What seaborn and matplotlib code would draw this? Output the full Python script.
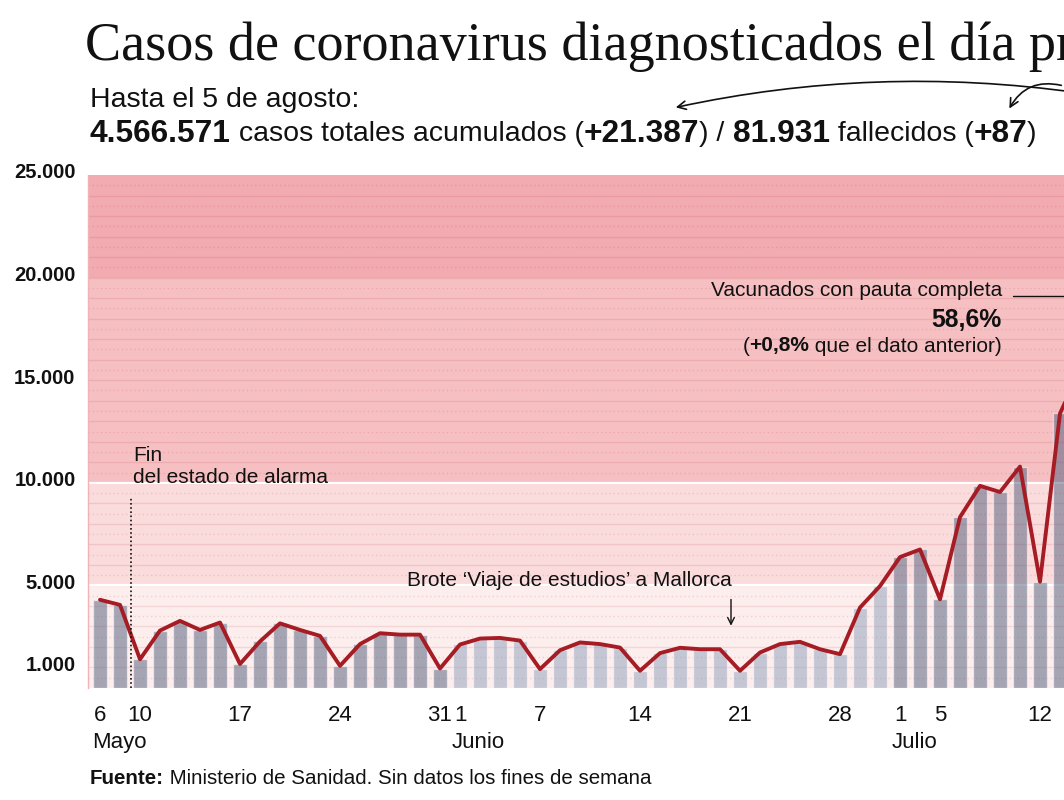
import numpy as np
import pandas as pd
import matplotlib
matplotlib.use('Agg')
import matplotlib.pyplot as plt
import matplotlib.transforms as mtransforms
from matplotlib.patches import FancyArrowPatch
import seaborn as sns

# Casos diagnosticados el día previo (solo días laborables)
fechas = [
    '2021-05-06', '2021-05-07',
    '2021-05-10', '2021-05-11', '2021-05-12', '2021-05-13', '2021-05-14',
    '2021-05-17', '2021-05-18', '2021-05-19', '2021-05-20', '2021-05-21',
    '2021-05-24', '2021-05-25', '2021-05-26', '2021-05-27', '2021-05-28',
    '2021-05-31', '2021-06-01', '2021-06-02', '2021-06-03', '2021-06-04',
    '2021-06-07', '2021-06-08', '2021-06-09', '2021-06-10', '2021-06-11',
    '2021-06-14', '2021-06-15', '2021-06-16', '2021-06-17', '2021-06-18',
    '2021-06-21', '2021-06-22', '2021-06-23', '2021-06-24', '2021-06-25',
    '2021-06-28', '2021-06-29', '2021-06-30', '2021-07-01', '2021-07-02',
    '2021-07-05', '2021-07-06', '2021-07-07', '2021-07-08', '2021-07-09',
    '2021-07-12', '2021-07-13', '2021-07-14',
]
casos = [
    4300, 4050,
    1400, 2800, 3270, 2830, 3190,
    1170, 2270, 3150, 2830, 2540,
    1080, 2140, 2670, 2600, 2600,
    950, 2120, 2410, 2440, 2310,
    920, 1840, 2220, 2140, 1970,
    840, 1700, 1960, 1890, 1890,
    840, 1730, 2140, 2250, 1890,
    1650, 3920, 4970, 6380, 6750,
    4320, 8330, 9850, 9550, 10790,
    5180, 13380, 15500,
]
ticks_fechas = ['2021-05-06', '2021-05-10', '2021-05-17', '2021-05-24', '2021-05-31',
                '2021-06-01', '2021-06-07', '2021-06-14', '2021-06-21', '2021-06-28',
                '2021-07-01', '2021-07-05', '2021-07-12']
meses = {5: 'Mayo', 6: 'Junio', 7: 'Julio'}
y_ticks = [1000, 5000, 10000, 15000, 20000, 25000]
y_labels = ['1.000', '5.000', '10.000', '15.000', '20.000', '25.000']

df = pd.DataFrame({'fecha': pd.to_datetime(fechas), 'casos': casos})
df['idx'] = np.arange(len(df))
df['tono'] = np.where(df['fecha'].dt.month == 6, 'claro', 'oscuro')

W, H = 1064, 800
sns.set_theme(style='white')
plt.rcParams['font.family'] = ['Liberation Sans', 'DejaVu Sans']

fig = plt.figure(figsize=(W / 100, H / 100), dpi=100)
ax = fig.add_axes([88 / W, 112 / H, 1 - 88 / W, 513 / H])

# fondo por tramos
bandas = [(0, 5000, '#fdeeee'), (5000, 10000, '#fbdcdd'),
          (10000, 20000, '#f6c0c3'), (20000, 25000, '#f2abb0')]
for y0, y1, c in bandas:
    ax.axhspan(y0, y1, color=c, lw=0, zorder=0)
for v in np.arange(1000, 25000, 1000):
    ax.axhline(v, color='#b0303c', alpha=0.13, lw=1, zorder=1)
for v in np.arange(500, 25000, 1000):
    ax.axhline(v, color='#b0303c', alpha=0.16, lw=1, ls=(0, (1, 2)), zorder=1)
for v in (5000, 10000):
    ax.axhline(v, color='white', lw=1.6, zorder=1)

sns.barplot(data=df, x='idx', y='casos', hue='tono', native_scale=True,
            palette={'oscuro': '#4e5c7a', 'claro': '#8e9fba'}, saturation=1,
            width=0.72, dodge=False, legend=False, alpha=0.5, ax=ax, zorder=2)
sns.lineplot(data=df, x='idx', y='casos', color='#a61c24', lw=2.8, ax=ax, zorder=4)

ax.set_xlim(-0.6, 48.2)
ax.set_ylim(0, 25000)
for s in ['top', 'right', 'bottom']:
    ax.spines[s].set_visible(False)
ax.spines['left'].set_color('#f0b4b8')
ax.spines['left'].set_linewidth(1)
ax.set_xlabel('')
ax.set_ylabel('')

pos = {f: i for f, i in zip(df['fecha'].dt.strftime('%Y-%m-%d'), df['idx'])}
ax.set_xticks([pos[f] for f in ticks_fechas])
ax.set_xticklabels([str(int(f[-2:])) for f in ticks_fechas], fontsize=16, color='#111111')
ax.set_yticks(y_ticks)
ax.set_yticklabels(y_labels, fontsize=14.5, fontweight='bold', color='#111111')
ax.tick_params(axis='both', length=0)
ax.tick_params(axis='x', pad=12)
ax.tick_params(axis='y', pad=9)
subir = mtransforms.ScaledTranslation(0, 4 / 100, fig.dpi_scale_trans)
for lab in ax.get_yticklabels():
    lab.set_transform(lab.get_transform() + subir)

for m, nombre in meses.items():
    i0 = df.loc[df['fecha'].dt.month == m, 'idx'].min()
    ax.text(i0 - 0.4, -0.106, nombre, transform=ax.get_xaxis_transform(),
            ha='left', va='center', fontsize=16, color='#111111')

# anotaciones
ax.vlines(1.55, 0, 9300, colors='#111111', lw=1.2, linestyles=(0, (1, 1.5)), zorder=5)
ax.text(1.65, 10770, 'Fin\ndel estado de alarma', ha='left', va='center',
        fontsize=15, color='#111111', linespacing=1.2, zorder=5)
ax.text(31.6, 5260, 'Brote \u2018Viaje de estudios\u2019 a Mallorca', ha='right',
        va='center', fontsize=15, color='#111111', zorder=5)
ax.annotate('', xy=(31.55, 2900), xytext=(31.55, 4450),
            arrowprops=dict(arrowstyle='->', lw=1, color='#111111'), zorder=5)
ax.text(45.1, 19350, 'Vacunados con pauta completa', ha='right', va='center',
        fontsize=15, color='#111111', zorder=5)
ax.plot([45.65, 49], [19100, 19100], color='#111111', lw=1, zorder=5)
ax.text(45.1, 17930, '58,6%', ha='right', va='center', fontsize=17.8,
        fontweight='bold', color='#111111', zorder=5)

renderer = fig.canvas.get_renderer()


def ancho(s, size, weight):
    t = fig.text(0, 0, 'x' + s + 'x', fontsize=size, fontweight=weight)
    t2 = fig.text(0, 0, 'xx', fontsize=size, fontweight=weight)
    w = t.get_window_extent(renderer).width - t2.get_window_extent(renderer).width
    t.remove()
    t2.remove()
    return w


def texto_mixto(partes, x, y, ha='left'):
    anchos = [ancho(s, size, w) for s, w, size in partes]
    if ha == 'right':
        x -= sum(anchos)
    for (s, w, size), a in zip(partes, anchos):
        fig.text(x / W, 1 - y / H, s, fontsize=size, fontweight=w,
                 va='center', ha='left', color='#111111')
        x += a


texto_mixto([('(', 'normal', 15), ('+0,8%', 'bold', 15),
             (' que el dato anterior)', 'normal', 15)], 1002, 346, ha='right')

# titulo y subtitulo
fig.text(85 / W, 1 - 60 / H, 'Casos de coronavirus diagnosticados el día previo',
         family=['Liberation Serif', 'DejaVu Serif'], fontsize=39, va='baseline',
         color='#111111')
fig.text(90 / W, 1 - 100 / H, 'Hasta el 5 de agosto:', fontsize=20.5, va='center',
         color='#111111')
texto_mixto([('4.566.571', 'bold', 22.8), (' casos totales acumulados (', 'normal', 20.5),
             ('+21.387', 'bold', 22.8), (') / ', 'normal', 20.5), ('81.931', 'bold', 22.8),
             (' fallecidos (', 'normal', 20.5), ('+87', 'bold', 22.8), (')', 'normal', 20.5)],
            90, 134)

flecha1 = FancyArrowPatch((1080 / W, 1 - 93 / H), (673 / W, 1 - 108 / H),
                          transform=fig.transFigure, connectionstyle='arc3,rad=0.09',
                          arrowstyle='->,head_length=6,head_width=3', lw=1.2, color='#111111')
flecha2 = FancyArrowPatch((1064 / W, 1 - 86 / H), (1008 / W, 1 - 111 / H),
                          transform=fig.transFigure, connectionstyle='arc3,rad=0.4',
                          arrowstyle='->,head_length=6,head_width=3', lw=1.2, color='#111111')
fig.patches.extend([flecha1, flecha2])

texto_mixto([('Fuente:', 'bold', 14.8),
             (' Ministerio de Sanidad. Sin datos los fines de semana', 'normal', 14.8)],
            90, 779)

fig.savefig('out.png', dpi=100)
